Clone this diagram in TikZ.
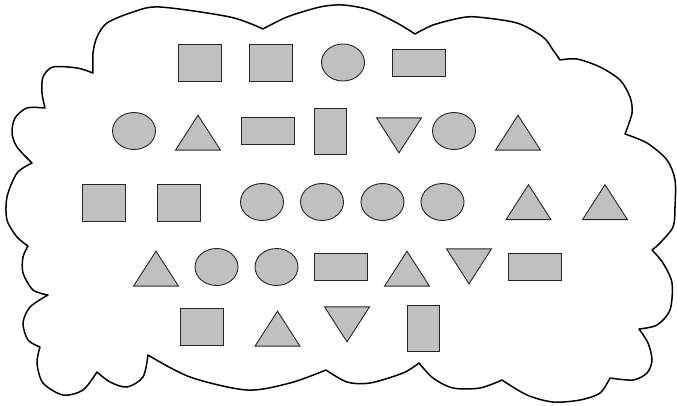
\documentclass[tikz,border=0pt]{standalone}
\usepackage{tikz}
\usetikzlibrary{shapes.geometric}
\definecolor{shapegray}{RGB}{192,192,192}

\begin{document}
\begin{tikzpicture}[x=1pt,y=-1pt,
    every node/.style={draw=black!85,line width=0.9pt,fill=shapegray,inner sep=0pt},
    sqbox/.style={rectangle,minimum width=43pt,minimum height=37pt},
    oval/.style={ellipse,minimum width=43pt,minimum height=37pt},
    widebox/.style={rectangle,minimum width=53pt,minimum height=27pt},
    tallbox/.style={rectangle,minimum width=32pt,minimum height=46pt},
    uptri/.style={isosceles triangle,isosceles triangle stretches,shape border rotate=90,minimum width=45pt,minimum height=35pt,anchor=apex},
    downtri/.style={isosceles triangle,isosceles triangle stretches,shape border rotate=270,minimum width=45pt,minimum height=35pt,anchor=apex}]
    \useasboundingbox (0,0) rectangle (677,405);
    \draw[line width=1.5pt,line join=round]
      plot[smooth] coordinates {(263,29) (287,17) (320,7) (343,5) (370,10) (397,23) (415,34)}
      -- plot[smooth] coordinates {(415,34) (433,25) (460,18) (477,17) (517,23) (543,37) (553,50) (560,60)}
      -- plot[smooth] coordinates {(560,60) (577,59) (600,67) (620,80) (630,97) (632,113) (625,134)}
      -- plot[smooth] coordinates {(625,134) (647,143) (667,160) (675,180) (675,207) (673,227) (660,243) (652,250)}
      -- plot[smooth] coordinates {(652,250) (663,263) (672,283) (670,310) (657,325) (639,329)}
      -- plot[smooth] coordinates {(639,329) (648,343) (652,360) (647,373) (633,380) (610,378)}
      -- plot[smooth] coordinates {(610,378) (600,393) (580,400) (553,402) (527,395) (502,380)}
      -- plot[smooth] coordinates {(502,380) (480,388) (453,388) (433,378) (419,363)}
      -- plot[smooth] coordinates {(419,363) (403,373) (370,383) (347,382) (326,370)}
      -- plot[smooth] coordinates {(326,370) (290,383) (247,390) (190,377) (148,355)}
      -- plot[smooth] coordinates {(148,355) (143,377) (127,387) (110,382) (97,372)}
      -- plot[smooth] coordinates {(97,372) (83,390) (63,395) (43,383) (37,363) (40,347)}
      -- plot[smooth] coordinates {(40,347) (28,340) (23,323) (30,307) (48,295)}
      -- plot[smooth] coordinates {(48,295) (33,290) (23,273) (23,257) (28,246)}
      -- plot[smooth] coordinates {(28,246) (17,237) (7,220) (7,197) (17,173) (32,163)}
      -- plot[smooth] coordinates {(32,163) (17,147) (12,133) (15,118) (27,108) (45,108)}
      -- plot[smooth] coordinates {(45,108) (42,93) (43,77) (53,67) (77,68) (93,73)}
      -- plot[smooth] coordinates {(93,73) (93,53) (97,37) (107,23) (133,12) (160,7) (230,17) (263,29)}
      -- cycle;

    \node[sqbox] (r1a) at (199.5,62.5) {};
    \node[sqbox] (r1b) at (271,62.5) {};
    \node[oval] (r1c) at (343,62.5) {};
    \node[widebox] (r1d) at (419,62.5) {};

    \node[oval] (r2a) at (134,131) {};
    \node[uptri] (r2b) at (198,114) {};
    \node[widebox] (r2c) at (267.5,131) {};
    \node[tallbox] (r2d) at (330,131) {};
    \node[downtri] (r2e) at (399,154) {};
    \node[oval] (r2f) at (454,131) {};
    \node[uptri] (r2g) at (518,114) {};

    \node[sqbox] (r3a) at (104,202.5) {};
    \node[sqbox] (r3b) at (179,202.5) {};
    \node[oval] (r3c) at (262,202) {};
    \node[oval] (r3d) at (322,202) {};
    \node[oval] (r3e) at (382.5,202) {};
    \node[oval] (r3f) at (442.5,202) {};
    \node[uptri] (r3g) at (528.5,183.5) {};
    \node[uptri] (r3h) at (605,183.5) {};

    \node[uptri] (r4a) at (156,250) {};
    \node[oval] (r4b) at (216.5,267) {};
    \node[oval] (r4c) at (276.5,267) {};
    \node[widebox] (r4d) at (341,267) {};
    \node[uptri] (r4e) at (407,250) {};
    \node[downtri] (r4f) at (469,285) {};
    \node[widebox] (r4g) at (534.5,267) {};

    \node[sqbox] (r5a) at (202,326.5) {};
    \node[uptri] (r5b) at (277.5,310) {};
    \node[downtri] (r5c) at (347,343) {};
    \node[tallbox] (r5d) at (423,328) {};
  \end{tikzpicture}
\end{document}
